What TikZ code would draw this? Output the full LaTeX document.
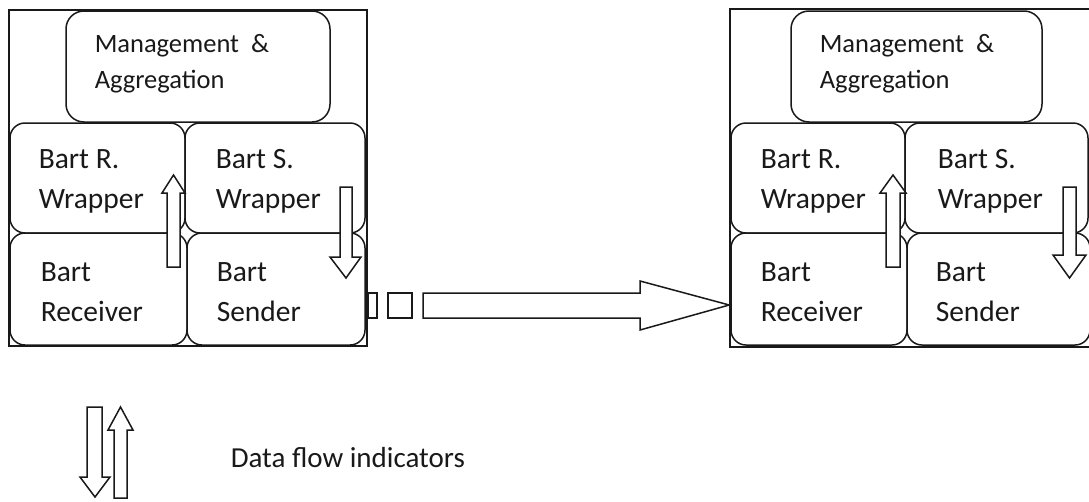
\documentclass[tikz,border=0pt]{standalone}
\usepackage{fontspec}
\setmainfont{Carlito}
\begin{document}
\begin{tikzpicture}[x=1pt,y=-1pt,line width=1.5pt,draw=black!90,
    part/.style={draw,rounded corners=15pt,inner sep=0pt},
    lbl/.style={anchor=base west,inner sep=0pt,align=left,text=black!90,font=\fontsize{29.5}{40}\selectfont},
    flow/.style={draw,fill=white}]
        \useasboundingbox (0,0) rectangle (1089,501);
        \clip (0,0) rectangle (1089,501);

        % left module
        \node[draw,inner sep=0pt,minimum width=358pt,minimum height=336pt] (box1) at (188,178) {};
        \node[part,rounded corners=18pt,minimum width=264pt,minimum height=111pt] (mgmt1) at (198,66.5) {};
        \node[part,minimum width=175pt,minimum height=110pt] (rw1) at (97.5,178) {};
        \node[part,minimum width=180pt,minimum height=110pt] (sw1) at (275,178) {};
        \node[part,minimum width=177pt,minimum height=112pt] (rc1) at (98.5,289) {};
        \node[part,minimum width=178pt,minimum height=112pt] (sd1) at (276,289) {};

        \node[lbl,font=\fontsize{26.5}{36}\selectfont] (tm1) at (94,88) {Management \ \&\\Aggregation};
        \node[lbl] (trw1) at (38,208) {Bart R.\\Wrapper};
        \node[lbl] (tsw1) at (215,208) {Bart S.\\Wrapper};
        \node[lbl] (trc1) at (40,321) {Bart\\Receiver};
        \node[lbl] (tsd1) at (216,321) {Bart\\Sender};

        \draw[flow] (167,267) -- (167,193) -- (162,193) -- (173.5,175) -- (185,193) -- (180,193) -- (180,267) -- cycle;
        \draw[flow] (340,187) -- (340,257) -- (330,257) -- (346,278) -- (361,257) -- (352,257) -- (352,187) -- cycle;

        % right module
        \node[draw,inner sep=0pt,minimum width=362pt,minimum height=338pt] (box2) at (911,178) {};
        \node[part,rounded corners=18pt,minimum width=251pt,minimum height=111pt] (mgmt2) at (916.5,66.5) {};
        \node[part,minimum width=174pt,minimum height=110pt] (rw2) at (818,178) {};
        \node[part,minimum width=183pt,minimum height=110pt] (sw2) at (996.5,178) {};
        \node[part,minimum width=176pt,minimum height=112pt] (rc2) at (819,289) {};
        \node[part,minimum width=183pt,minimum height=112pt] (sd2) at (998.5,289) {};

        \node[lbl,font=\fontsize{26.5}{36}\selectfont] (tm2) at (819,88) {Management \ \&\\Aggregation};
        \node[lbl] (trw2) at (760,208) {Bart R.\\Wrapper};
        \node[lbl] (tsw2) at (937,208) {Bart S.\\Wrapper};
        \node[lbl] (trc2) at (760,321) {Bart\\Receiver};
        \node[lbl] (tsd2) at (935,321) {Bart\\Sender};

        \draw[flow] (886,267) -- (886,193) -- (880,193) -- (893,175) -- (906,193) -- (900,193) -- (900,267) -- cycle;
        \draw[flow] (1063,187) -- (1063,255) -- (1053,255) -- (1069.5,278) -- (1086,255) -- (1076,255) -- (1076,187) -- cycle;

        % link between the modules
        \draw[flow] (box1.east |- 0,293) rectangle (377,318);
        \draw[flow] (388,293) rectangle (412,318);
        \draw[flow] (423,293) -- (640,293) -- (640,281) -- (box2.west |- 0,305) -- (640,330) -- (640,318) -- (423,318) -- cycle;

        % legend
        \draw[flow] (87,407) -- (87,477) -- (80,477) -- (95,497) -- (110,477) -- (102,477) -- (102,407) -- cycle;
        \draw[flow] (114,498) -- (114,430) -- (108,430) -- (120.5,407) -- (133,430) -- (127,430) -- (127,498) -- cycle;
        \node[lbl,font=\fontsize{29}{36}\selectfont] (key) at (230,467) {Data flow indicators};
    \end{tikzpicture}
\end{document}
